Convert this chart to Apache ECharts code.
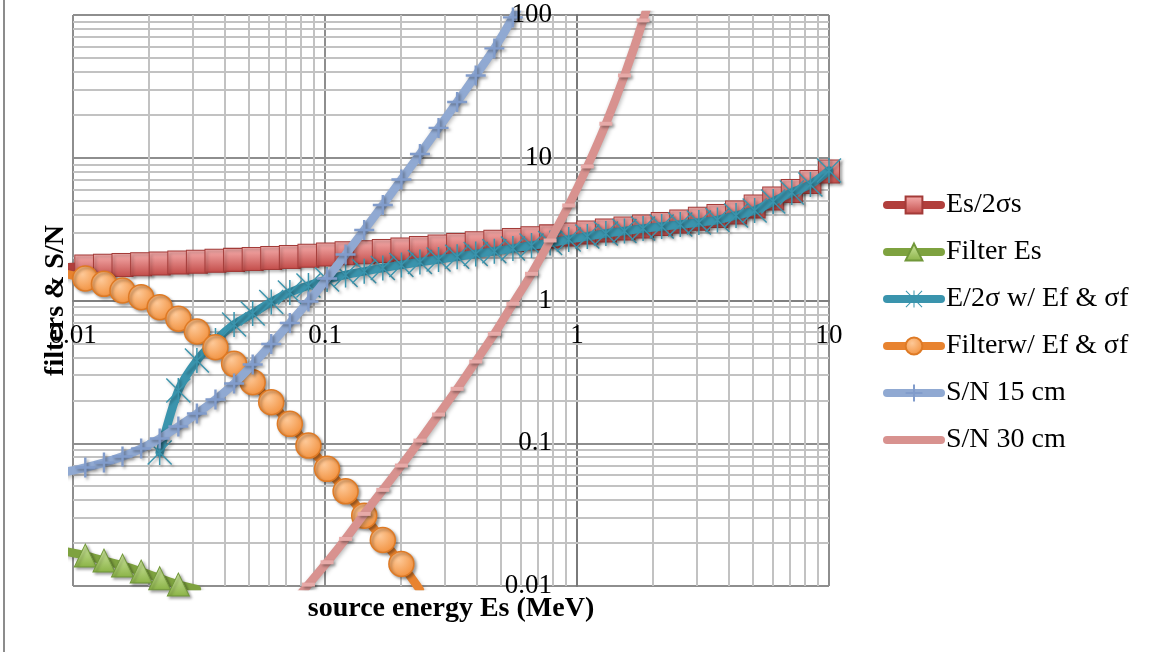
<!DOCTYPE html>
<html>
<head>
<meta charset="utf-8">
<script src="https://cdn.jsdelivr.net/npm/echarts@6/dist/echarts.min.js"></script>
<style>html,body{margin:0;padding:0;background:#fff}#c{width:1151px;height:652px}</style>
</head>
<body>
<div id="c"></div>
<script>
// ---- data (x grid shared by every series; first value lies just left of the axis minimum) ----
const energy = [0.009445, 0.01119, 0.01327, 0.01572, 0.01864, 0.02208, 0.02618, 0.03102, 0.03676, 0.04357,
  0.05164, 0.06119, 0.07253, 0.08596, 0.1019, 0.1207, 0.1431, 0.1696, 0.2010, 0.2381,
  0.2822, 0.3345, 0.3964, 0.4699, 0.5568, 0.6599, 0.7821, 0.9270, 1.099, 1.302,
  1.543, 1.829, 2.168, 2.569, 3.045, 3.609, 4.277, 5.069, 6.007, 7.119, 8.437, 10.00];

const esOver2Sigma = [1.71, 1.731, 1.753, 1.773, 1.796, 1.817, 1.846, 1.870, 1.898, 1.925, 1.953,
  1.985, 2.020, 2.060, 2.101, 2.142, 2.181, 2.223, 2.278, 2.333, 2.390,
  2.448, 2.516, 2.583, 2.655, 2.733, 2.814, 2.901, 2.996, 3.094, 3.196,
  3.301, 3.437, 3.578, 3.737, 3.910, 4.137, 4.557, 5.185, 5.853, 6.768, 8.017];

const filterEs = [0.0174, 0.01633, 0.01507, 0.01390, 0.01262, 0.01135, 0.01023, 0.0095];

const e2sFiltered = [null, null, null, null, null, 0.0861, 0.234, 0.380, 0.524, 0.679, 0.811,
  0.976, 1.138, 1.274, 1.403, 1.51, 1.60, 1.69, 1.775, 1.86, 1.938,
  2.024, 2.118, 2.215, 2.314, 2.429, 2.528, 2.676, 2.809, 2.949, 3.069,
  3.196, 3.301, 3.409, 3.521, 3.666, 3.941, 4.272, 4.941, 5.712, 6.501, 8.147];

const filterFiltered = [1.53, 1.426, 1.310, 1.175, 1.055, 0.8973, 0.7458, 0.6065, 0.4709, 0.3600,
  0.2676, 0.1938, 0.1367, 0.0964, 0.0662, 0.0461, 0.0311, 0.0210, 0.01428, 0.0094];

const sn15 = [0.0633, 0.0676, 0.0732, 0.0807, 0.0918, 0.1079, 0.1309, 0.1614, 0.2024, 0.2620,
  0.3560, 0.4956, 0.6955, 0.9840, 1.426, 2.101, 3.119, 4.670, 7.047, 10.63,
  16.18, 24.60, 37.73, 58.33, 96.21, 169];

const sn30 = [null, null, null, null, null, null, null, null, null, null, null, null,
  0.0072, 0.01023, 0.01466, 0.02138, 0.03200, 0.04716, 0.06979, 0.1044, 0.1589, 0.2405,
  0.3737, 0.5842, 0.9482, 1.538, 2.633, 4.632, 8.690, 17.31, 37.73, 91.65, 249];

const seriesNames = ['Es/2σs', 'Filter Es', 'E/2σ w/ Ef & σf', 'Filterw/ Ef & σf', 'S/N 15 cm', 'S/N 30 cm'];
const xTicks = [0.01, 0.1, 1, 10];
const yTicks = [0.01, 0.1, 1, 10, 100];
const xName = 'source energy Es (MeV)';
const yName = 'filters & S/N';

// ---- layout ----
const G = { left: 73, top: 15, width: 756, height: 571 };
const serif = 'Liberation Serif';

function pairs(vals) {
  const out = [];
  energy.forEach((x, i) => { if (vals[i] != null) out.push([x, vals[i]]); });
  return out;
}
function minorValues(ticks) {
  const out = [];
  for (let i = 0; i < ticks.length - 1; i++)
    for (let m = 2; m <= 9; m++) out.push(+(m * ticks[i]).toPrecision(3));
  return out;
}
const minorLines = minorValues(xTicks).map(v => ({ xAxis: v }))
  .concat(minorValues(yTicks).map(v => ({ yAxis: v })));

const lineShadow = { shadowColor: 'rgba(0,0,0,0.28)', shadowBlur: 4, shadowOffsetX: 1, shadowOffsetY: 2 };
const symShadow = { shadowColor: 'rgba(0,0,0,0.35)', shadowBlur: 3, shadowOffsetX: 2, shadowOffsetY: 2 };
const lin = (a, b) => ({ type: 'linear', x: 0, y: 0, x2: 0, y2: 1, colorStops: [{ offset: 0, color: a }, { offset: 1, color: b }] });

const asterisk = 'path://M47,0 L53,0 L53,100 L47,100 Z M4,0 L100,96 L96,100 L0,4 Z M96,0 L100,4 L4,100 L0,96 Z';
const plus = 'path://M0,44 L100,44 L100,56 L0,56 Z M44,0 L56,0 L56,100 L44,100 Z';

function mkSeries(i, vals, lineColor, symbol, size, itemStyle, extra) {
  return Object.assign({
    type: 'line', name: seriesNames[i], data: pairs(vals), z: 3 + i,
    smooth: 0.25, clip: true, symbol: symbol, symbolSize: size, showSymbol: true,
    lineStyle: Object.assign({ color: lineColor, width: 8.5, cap: 'round', join: 'round' }, lineShadow),
    itemStyle: Object.assign({}, symShadow, itemStyle),
    emphasis: { disabled: true }, animation: false
  }, extra || {});
}

const series = [
  mkSeries(0, esOver2Sigma, '#b13f3c', 'rect', [21, 23],
    { color: lin('#f7b0af', '#c24b48'), borderColor: '#a33b38', borderWidth: 1 },
    { markLine: { z: 1, silent: true, symbol: 'none', label: { show: false }, animation: false,
      lineStyle: { color: '#c2c2c2', width: 2, type: 'solid' }, emphasis: { disabled: true }, data: minorLines } }),
  mkSeries(1, filterEs, '#7ea23f', 'triangle', [22, 23],
    { color: lin('#d0e8a2', '#8ab246'), borderColor: '#71973a', borderWidth: 1 }),
  mkSeries(2, e2sFiltered, '#3a94ad', asterisk, 25, { color: '#3a94ad' }),
  mkSeries(3, filterFiltered, '#e8832f', 'circle', 25,
    { color: { type: 'radial', x: 0.4, y: 0.35, r: 0.75, colorStops: [{ offset: 0, color: '#fdc897' }, { offset: 1, color: '#f18b34' }] },
      borderColor: '#de7a25', borderWidth: 1.5 }),
  mkSeries(4, sn15, '#90a9d2', plus, 20, { color: '#819ccb' }),
  mkSeries(5, sn30, '#d8928f', 'rect', [13, 4], { color: '#e7aaa8' })
];

const legendData = seriesNames.map((n, i) => i === 5 ? { name: n, itemStyle: { opacity: 0 } } : { name: n });

const chart = echarts.init(document.getElementById('c'), null, { renderer: 'canvas' });
chart.setOption({
  animation: false,
  backgroundColor: '#fff',
  textStyle: { fontFamily: serif, color: '#000' },
  grid: { left: G.left, top: G.top, width: G.width, height: G.height, outerBoundsMode: 'none', containLabel: false },
  legend: {
    orient: 'vertical', left: 878, top: 186, itemWidth: 54, itemHeight: 21, itemGap: 19,
    data: legendData, selectedMode: false,
    textStyle: { fontFamily: serif, fontSize: 28, color: '#000', lineHeight: 26 },
    lineStyle: { width: 8, cap: 'round' }
  },
  xAxis: [
    { type: 'log', logBase: 10, min: xTicks[0], max: xTicks[xTicks.length - 1], position: 'bottom', offset: -G.height / 2, z: 0,
      axisLine: { show: true, onZero: false, lineStyle: { color: '#808080', width: 2 } }, axisTick: { show: false }, axisLabel: { show: false },
      splitLine: { show: true, lineStyle: { color: '#8e8e8e', width: 2 } } },
    { type: 'log', logBase: 10, min: xTicks[0], max: xTicks[xTicks.length - 1], position: 'bottom', offset: 0,
      axisLine: { show: false, onZero: false }, axisTick: { show: false }, axisLabel: { show: false }, splitLine: { show: false },
      name: xName, nameLocation: 'middle', nameGap: 9,
      nameTextStyle: { fontFamily: serif, fontSize: 28, fontWeight: 'bold', color: '#000' } },
    { type: 'log', logBase: 10, min: xTicks[0], max: xTicks[xTicks.length - 1], position: 'bottom', offset: -G.height / 2, z: 20,
      axisLine: { show: false, onZero: false }, axisTick: { show: false }, splitLine: { show: false },
      axisLabel: { show: true, margin: 22, fontFamily: serif, fontSize: 27, color: '#000', formatter: v => String(+(+v).toPrecision(3)) } }
  ],
  yAxis: [
    { type: 'log', logBase: 10, min: yTicks[0], max: yTicks[yTicks.length - 1], position: 'left', offset: -G.width * 2 / 3, z: 0,
      axisLine: { show: true, onZero: false, lineStyle: { color: '#7a7a7a', width: 2 } }, axisTick: { show: false }, axisLabel: { show: false },
      splitLine: { show: true, lineStyle: { color: '#8e8e8e', width: 2 } } },
    { type: 'log', logBase: 10, min: yTicks[0], max: yTicks[yTicks.length - 1], position: 'left', offset: 0,
      axisLine: { show: false, onZero: false }, axisTick: { show: false }, axisLabel: { show: false }, splitLine: { show: false },
      name: yName, nameLocation: 'middle', nameGap: 3, nameRotate: 90,
      nameTextStyle: { fontFamily: serif, fontSize: 28, fontWeight: 'bold', color: '#000' } },
    { type: 'log', logBase: 10, min: yTicks[0], max: yTicks[yTicks.length - 1], position: 'left', offset: -G.width * 2 / 3, z: 20,
      axisLine: { show: false, onZero: false }, axisTick: { show: false }, splitLine: { show: false },
      axisLabel: { show: true, margin: 25, fontFamily: serif, fontSize: 27, color: '#000', formatter: v => String(+(+v).toPrecision(3)) } }
  ],
  graphic: [{ type: 'rect', left: 3, top: 0, silent: true, shape: { width: 2, height: 652 }, style: { fill: '#8c8c8c' } }],
  series: series
});
</script>
</body>
</html>
